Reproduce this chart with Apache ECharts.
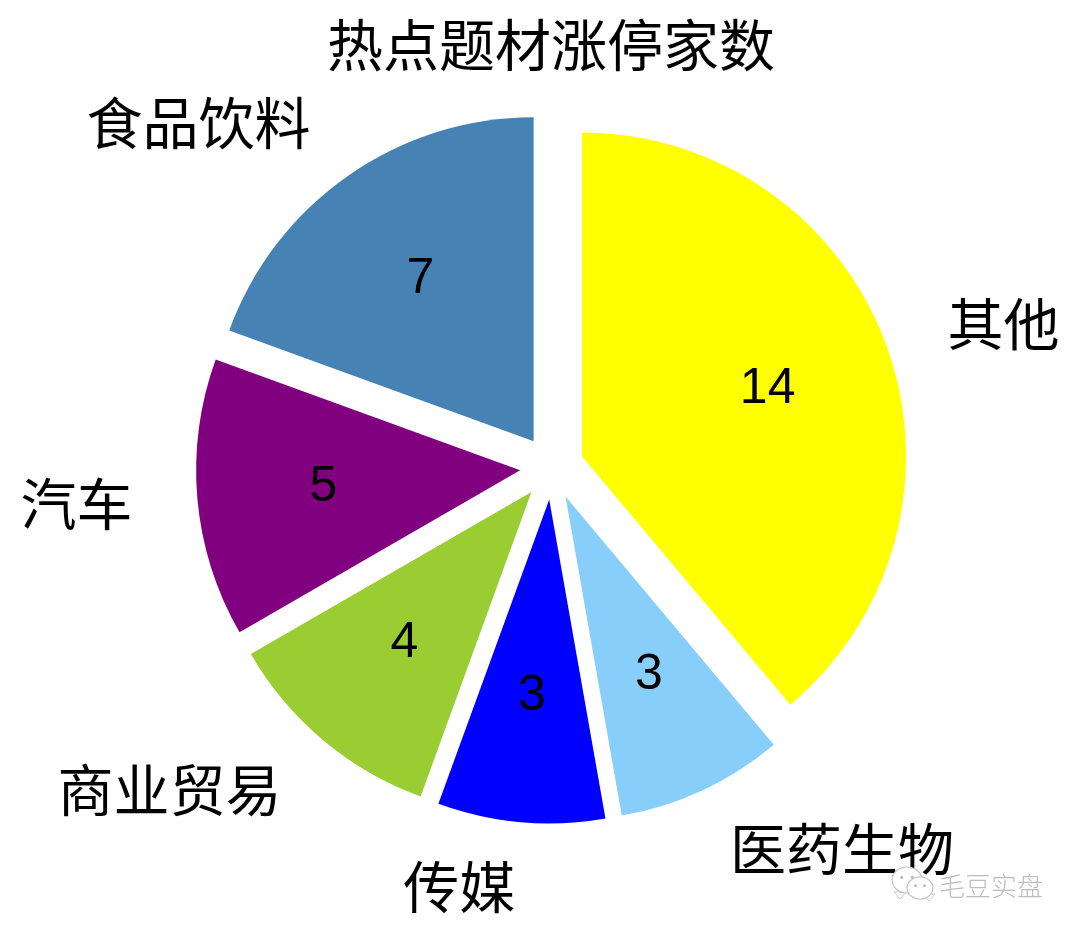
<!DOCTYPE html>
<html><head><meta charset="utf-8">
<style>html,body{margin:0;padding:0;background:#fff}#c{width:1080px;height:933px}</style>
<script src="https://cdn.jsdelivr.net/npm/echarts@6/dist/echarts.min.js"></script>
</head><body><div id="c"></div>
<script>
const chartTitle = '热点题材涨停家数';
const categories = ['其他','医药生物','传媒','商业贸易','汽车','食品饮料'];
const counts = [14,3,3,4,5,7];
const colors = ['#FFFF00','#87CEFA','#0000FF','#9ACD32','#800080','#4682B4'];
const watermark = '毛豆实盘';
const CJK = '"Noto Sans CJK SC","Liberation Sans",sans-serif';
const center = [552,467.5];
const chart = echarts.init(document.getElementById('c'),null,{renderer:'canvas'});
function base(radius,z){return {type:'pie',center,radius,startAngle:90,clockwise:true,
  selectedMode:'multiple',selectedOffset:32,avoidLabelOverlap:false,silent:true,animation:false,z,
  emphasis:{disabled:true},minShowLabelAngle:0};}
function bubble(cx,cy,rx,ry,tx,ty,z){return [
  {type:'polygon',shape:{points:[[tx-6,ty-7],[tx+6,ty-7],[tx,ty]]},style:{fill:'#fff',stroke:'#c8c8c8',lineWidth:1},z},
  {type:'ellipse',shape:{cx,cy,rx,ry},style:{fill:'#fff',stroke:'#c4c4c4',lineWidth:1.2},z},
  {type:'circle',shape:{cx:cx-rx*0.35,cy:cy-ry*0.2,r:1.3},style:{fill:'#aaa'},z},
  {type:'circle',shape:{cx:cx+rx*0.35,cy:cy-ry*0.2,r:1.3},style:{fill:'#aaa'},z}];}
chart.setOption({animation:false,backgroundColor:'#fff',
 title:{text:chartTitle,left:546,top:40,textAlign:'center',textVerticalAlign:'middle',
   textStyle:{fontFamily:CJK,fontSize:56,fontWeight:'normal',color:'#000'}},
 series:[
  Object.assign(base(324,1),{
    data:categories.map((n,i)=>({name:n,value:counts[i],selected:true,itemStyle:{color:colors[i]}})),
    label:{show:false},labelLine:{show:false}}),
  Object.assign(base(389,2),{
    data:categories.map((n,i)=>({name:n,value:counts[i],selected:true,itemStyle:{color:'transparent'}})),
    label:{show:true,position:'inner',formatter:'{c}',fontFamily:'"Liberation Sans",sans-serif',fontSize:50,color:'#000'},
    labelLine:{show:false}}),
  Object.assign(base(389,3),{
    data:categories.map((n,i)=>({name:n,value:counts[i],selected:true,itemStyle:{color:'transparent'}})),
    label:{show:true,position:'outside',formatter:'{b}',distanceToLabelLine:0,fontFamily:CJK,fontSize:56,color:'#000'},
    labelLine:{show:false,length:0,length2:0}})
 ],
 graphic:[
  {type:'text',left:939,top:873,style:{text:watermark,fontFamily:CJK,fontSize:26,fontWeight:200,fill:'#bdbdbd'},z:10},
  ...bubble(907,880,15,13,900,899,10),
  ...bubble(920,888,13,11,929,901,11)
 ]
});
</script></body></html>
